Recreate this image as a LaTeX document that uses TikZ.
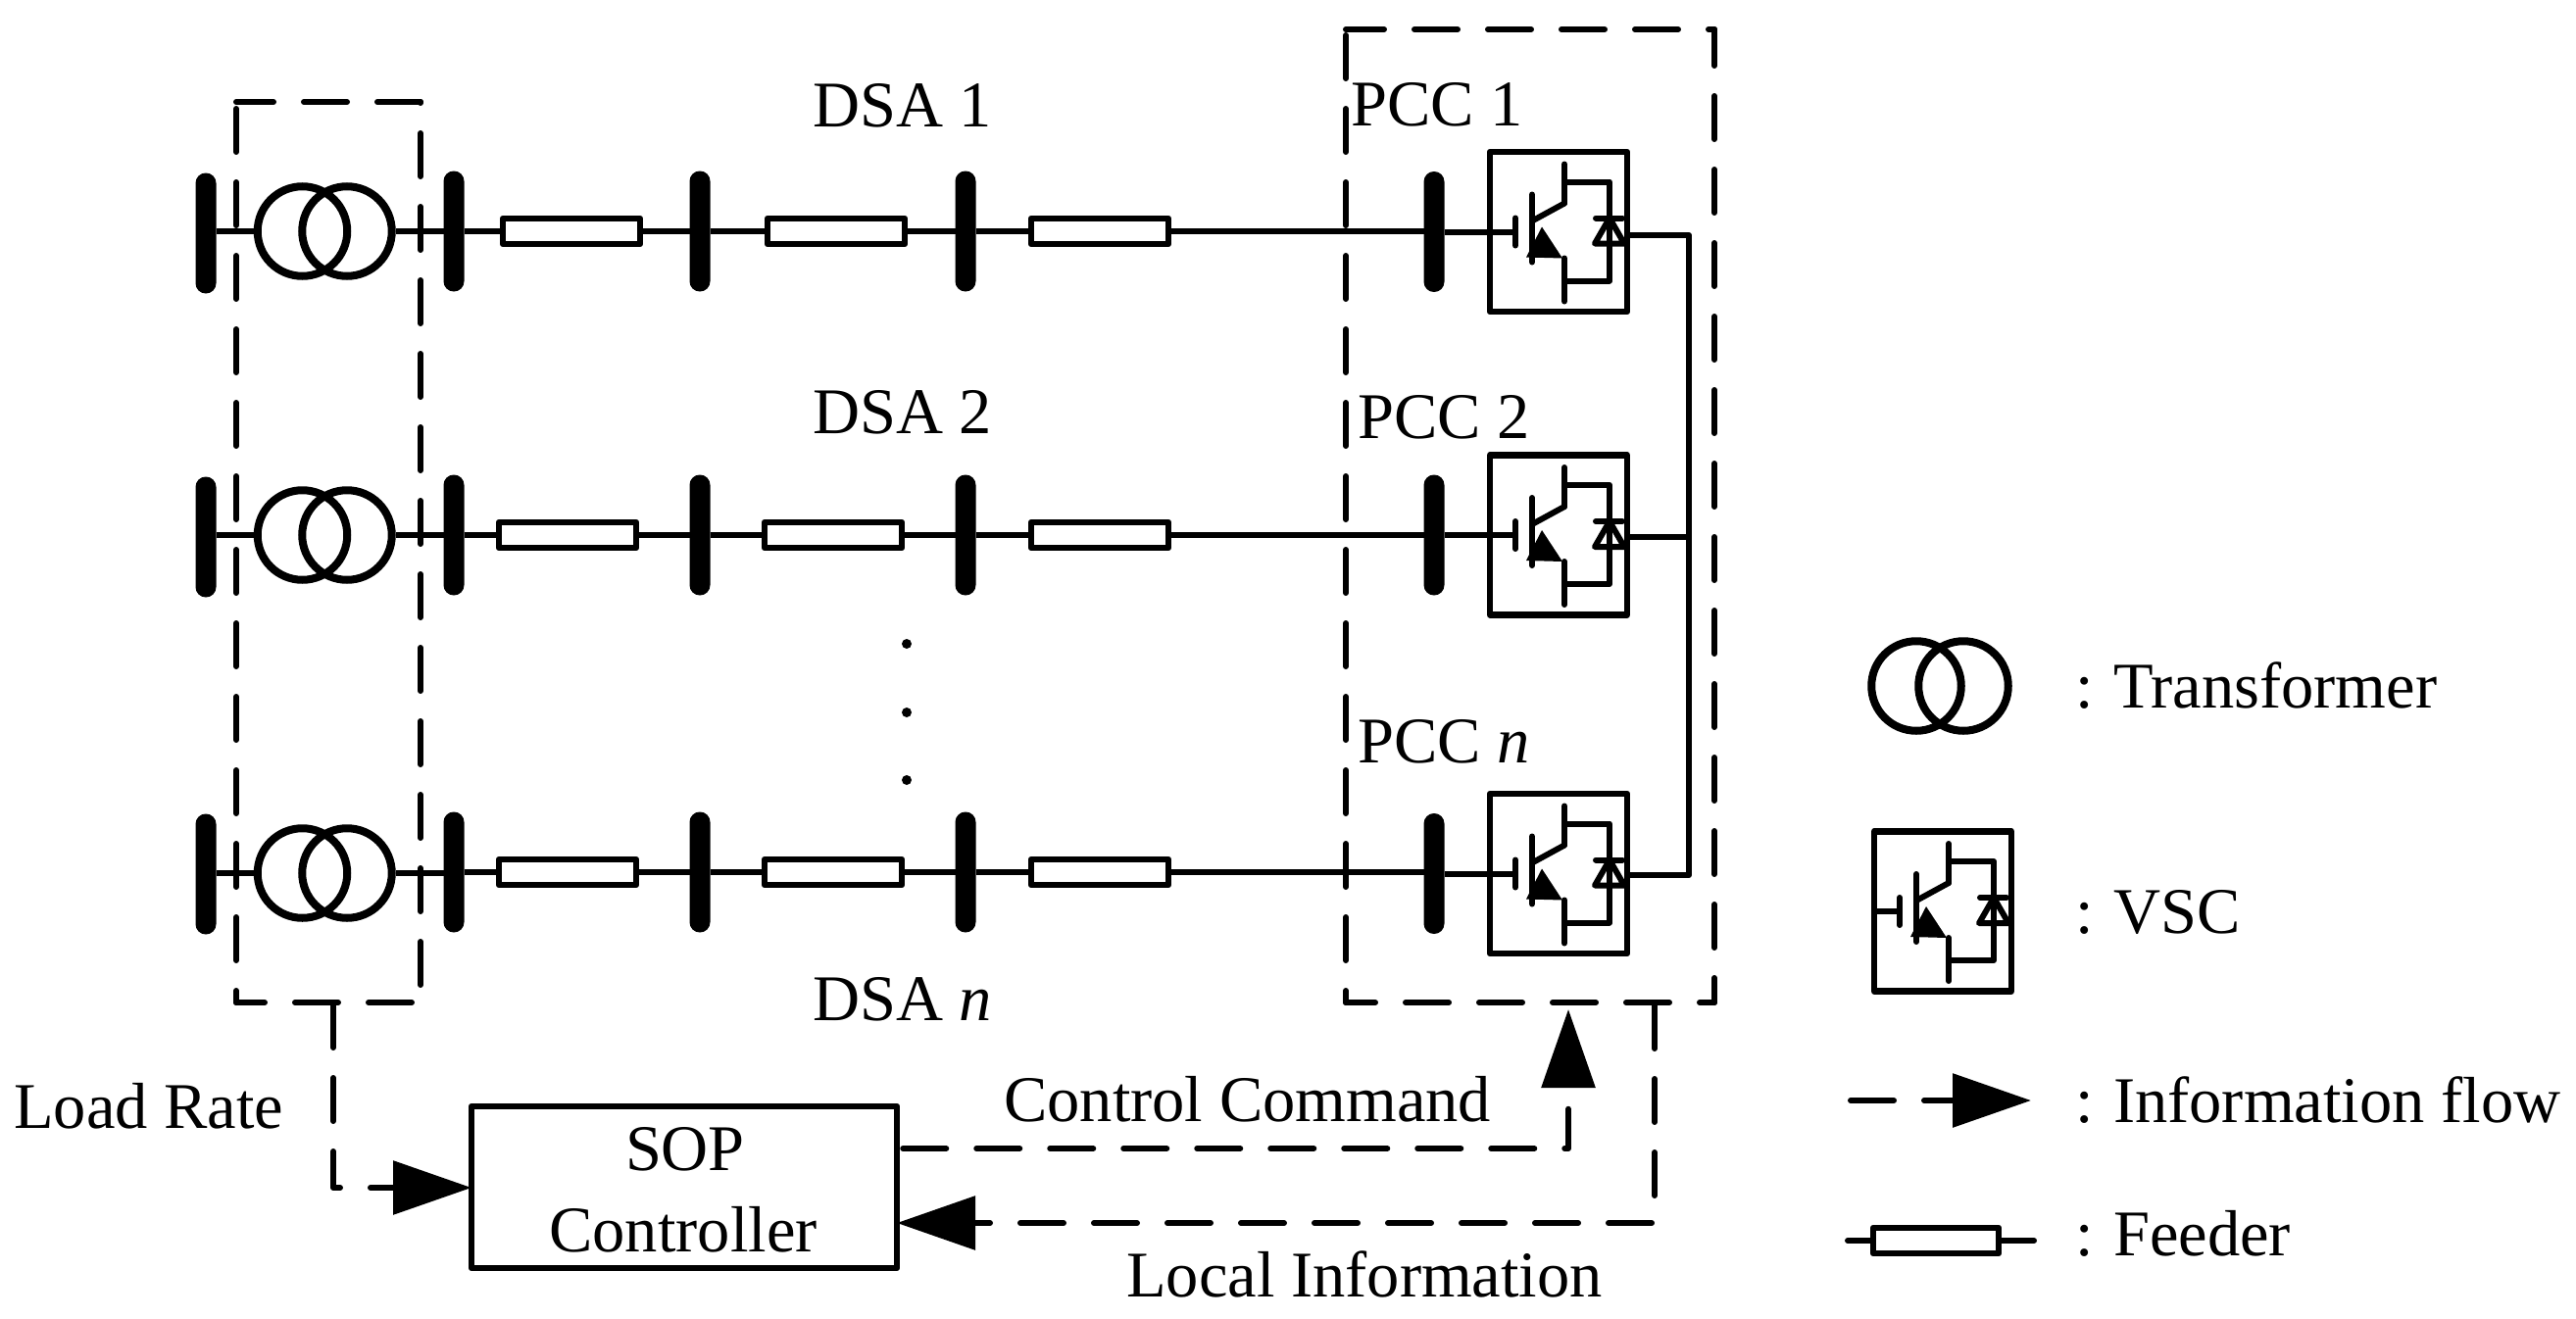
\documentclass[tikz,border=0pt]{standalone}
\usepackage{fontspec}
\setmainfont{Liberation Serif}
\usetikzlibrary{arrows.meta}
\tikzset{
  wire/.style={line width=6pt,line join=round},
  busbar/.style={rectangle,fill=black,rounded corners=10.4pt,minimum width=21pt,minimum height=123pt,inner sep=0pt,outer sep=0pt},
  feeder/.style={rectangle,draw,fill=white,line width=6.5pt,minimum width=140pt,minimum height=26pt,inner sep=0pt,line join=round},
  xfmr/.style={circle,draw,line width=8pt,minimum size=91.5pt,inner sep=0pt},
  vscbox/.style={rectangle,draw,line width=6.5pt,minimum width=140pt,minimum height=163pt,inner sep=0pt,line join=round},
  sopbox/.style={rectangle,draw,line width=6.5pt,minimum width=434pt,minimum height=165pt,inner sep=0pt,line join=round},
  vscline/.style={line width=6pt,line cap=round,line join=round},
  frameside/.style={line width=6pt,line cap=round,dash pattern=on 44pt off 31pt},
  info/.style={line width=6pt,line cap=round,line join=round,dash pattern=on 44pt off 31pt,-{Triangle[length=80pt,width=54pt]}},
  txt/.style={anchor=base west,inner sep=0pt,font=\fontsize{66.5}{78}\selectfont},
  dotnode/.style={circle,fill=black,minimum size=10pt,inner sep=0pt}
}
\newcommand{\vscsym}[3]{%
  \node[vscbox] (#1) at (#2,#3) {};
  \begin{scope}[shift={(#2,#3)}]
    \draw[wire] (-70,0) -- (-44,0);
    \draw[vscline] (-44,-14) -- (-44,14);
    \draw[vscline] (-27,-38) -- (-27,31);
    \draw[vscline] (-27,-11) -- (6,-29);
    \draw[vscline] (6,-69) -- (6,-29);
    \draw[vscline] (6,-51) -- (52,-51) -- (52,50) -- (6,50);
    \draw[vscline] (6,27) -- (6,71);
    \draw[vscline] (38,-14) -- (65,-14);
    \draw[vscline] (37,12) -- (67,12) -- (52,-14) -- cycle;
    \fill (-17,-5) -- (4,27) -- (-33,26) -- cycle;
  \end{scope}}
\begin{document}
\begin{tikzpicture}[x=1pt,y=-1pt]
\useasboundingbox (0,0) rectangle (2628,1346);
% rows
\foreach \r/\yl/\yc/\yb/\yv/\fa/\fb in {1/238/236/236/236.5/583/853,2/548/546/546/546/579/850,3/892/891/890/891.5/579/850}{
  \node[busbar] (lb\r) at (210,\yl) {};
  \node[xfmr] (ta\r) at (308.5,\yc) {};
  \node[xfmr] (tb\r) at (354,\yc) {};
  \node[busbar] (b1\r) at (463,\yb) {};
  \node[feeder] (f1\r) at (\fa,\yb) {};
  \node[busbar] (b2\r) at (714,\yb) {};
  \node[feeder] (f2\r) at (\fb,\yb) {};
  \node[busbar] (b3\r) at (985,\yb) {};
  \node[feeder] (f3\r) at (1122,\yb) {};
  \node[busbar] (b4\r) at (1463,\yv) {};
  \vscsym{v\r}{1590}{\yv}
  \draw[wire] (lb\r.east |- ta\r.west) -- (ta\r.west);
  \draw[wire] (tb\r.east) -- (b1\r.west |- tb\r.east);
  \draw[wire] (b1\r.east) -- (f1\r.west);
  \draw[wire] (f1\r.east) -- (b2\r.west);
  \draw[wire] (b2\r.east) -- (f2\r.west);
  \draw[wire] (f2\r.east) -- (b3\r.west);
  \draw[wire] (b3\r.east) -- (f3\r.west);
  \draw[wire] (f3\r.east) -- (b4\r.west |- f3\r.east);
  \draw[wire] (b4\r.east) -- (v\r.west);
}
% DC link
\coordinate (o1) at (1660,240);
\coordinate (o2) at (1660,548);
\coordinate (o3) at (1660,893);
\coordinate (dc1) at (1723,240);
\coordinate (dc2) at (1723,548);
\coordinate (dc3) at (1723,893);
\draw[wire] (o1) -- (dc1) -- (dc3) -- (o3);
\draw[wire] (o2) -- (dc2);
% left dashed frame
\coordinate (la) at (241,104);
\coordinate (lb) at (429,104);
\coordinate (lc) at (429,1023);
\coordinate (ld) at (241,1023);
\draw[frameside,dash phase=6pt] (la) -- (lb);
\draw[frameside,dash phase=68pt] (la) -- (ld);
\draw[frameside,dash phase=43pt] (lb) -- (lc);
\draw[frameside,dash phase=15pt] (ld) -- (lc);
% right dashed frame
\coordinate (ra) at (1373,30);
\coordinate (rb) at (1749,30);
\coordinate (rc) at (1749,1023);
\coordinate (rd) at (1373,1023);
\draw[frameside,dash phase=5pt] (ra) -- (rb);
\draw[frameside,dash phase=69pt] (ra) -- (rd);
\draw[frameside,dash phase=7pt] (rb) -- (rc);
\draw[frameside,dash phase=14pt] (rd) -- (rc);
% controller
\node[sopbox] (sop) at (698,1211.5) {};
\node[anchor=base,inner sep=0pt,font=\fontsize{66.5}{78}\selectfont] (soplab) at (699,1194) {SOP};
\node[anchor=base,inner sep=0pt,font=\fontsize{66.5}{78}\selectfont] (conlab) at (697,1277) {Controller};
\coordinate (loadout) at (340,1023);
\coordinate (loadturn) at (340,1212);
\coordinate (loadin) at (481,1212);
\coordinate (ctlstart) at (sop.east |- 0,1172);
\coordinate (ctlturn) at (1600,1172);
\coordinate (ctlend) at (1600,1030);
\coordinate (locstart) at (1688,1023);
\coordinate (locturn) at (1688,1248);
\coordinate (locend) at (915,1248);
\draw[info,dash phase=73pt] (loadout) -- (loadturn) -- (loadin);
\draw[info,dash phase=72pt] (ctlstart) -- (ctlturn) -- (ctlend);
\draw[info,dash phase=72pt] (locstart) -- (locturn) -- (locend);
% dots
\node[dotnode] (d1) at (925,657) {};
\node[dotnode] (d2) at (925,727) {};
\node[dotnode] (d3) at (925,796) {};
% labels
\node[txt] (dsa1) at (829,129) {DSA 1};
\node[txt] (dsa2) at (829,442) {DSA 2};
\node[txt] (dsan) at (829,1041) {DSA \textit{n}};
\node[txt] (pcc1) at (1378,128) {PCC 1};
\node[txt] (pcc2) at (1385,447) {PCC 2};
\node[txt] (pccn) at (1385,778) {PCC \textit{n}};
\node[txt] (load) at (14,1151) {Load Rate};
\node[txt] (ctl) at (1024,1144) {Control Command};
\node[txt] (loc) at (1149,1323) {Local Information};
% legend
\node[xfmr] (lta) at (1955,700) {};
\node[xfmr] (ltb) at (2003,700) {};
\node[txt] (ltx) at (2117,722) {:\hspace{20.5pt}Transformer};
\vscsym{lv}{1982}{930}
\node[txt] (lvx) at (2117,952) {:\hspace{20.5pt}VSC};
\coordinate (ifa) at (1888,1123);
\coordinate (ifb) at (2072,1123);
\draw[info,dash phase=0pt] (ifa) -- (ifb);
\node[txt] (lix) at (2117,1145) {:\hspace{20.5pt}Information flow};
\node[feeder,minimum width=128pt] (lf) at (1975,1266) {};
\coordinate (lfa) at (1885,1266);
\coordinate (lfb) at (2075,1266);
\draw[wire,line cap=round] (lfa) -- (lf.west);
\draw[wire,line cap=round] (lf.east) -- (lfb);
\node[txt] (lfx) at (2117,1281) {:\hspace{20.5pt}Feeder};
\end{tikzpicture}
\end{document}
